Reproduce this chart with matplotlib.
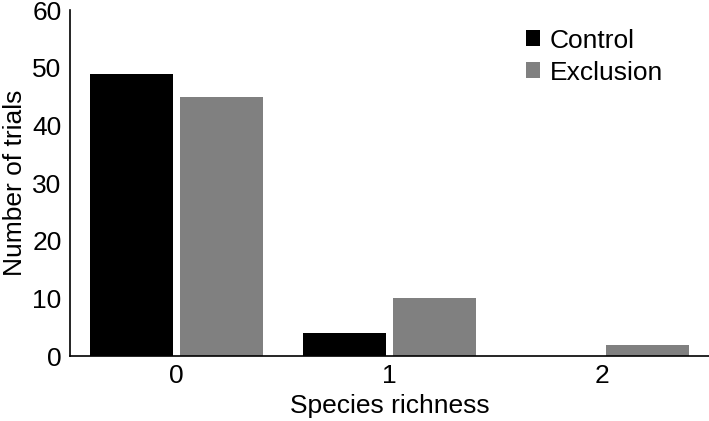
import numpy as np
import matplotlib

matplotlib.use("Agg")

import matplotlib.pyplot as plt

# =========================
# データ
# =========================
categories = ["0", "1", "2"]
control = [49, 4, 0]
exclusion = [45, 10, 2]

plt.rcParams["font.family"] = ["Liberation Sans", "DejaVu Sans"]

fig = plt.figure(figsize=(7.09, 4.21), dpi=100)
ax = fig.add_axes([0.0987, 0.154, 0.9013, 0.822])

x = np.arange(len(categories))
width = 0.39
ax.bar(x - 0.21, control, width, color="black", label="Control")
ax.bar(x + 0.21, exclusion, width, color="#808080", label="Exclusion")

ax.set_xlim(-0.5, 2.5)
ax.set_ylim(0, 60)
ax.set_yticks(range(0, 61, 10))
ax.set_xticks(x)
ax.set_xticklabels(categories)
ax.tick_params(axis="both", length=0, labelsize=19, pad=6)

ax.spines["top"].set_visible(False)
ax.spines["right"].set_visible(False)
ax.spines["left"].set_linewidth(1.2)
ax.spines["bottom"].set_linewidth(1.2)

ax.set_xlabel("Species richness", fontsize=19, labelpad=4)
ax.set_ylabel("Number of trials", fontsize=19, labelpad=4)

ax.legend(loc="upper right", bbox_to_anchor=(0.965, 1.015), frameon=False,
          fontsize=19, handlelength=0.55, handleheight=0.55,
          handletextpad=0.35, labelspacing=0.3)

fig.savefig("out.png", dpi=100)
